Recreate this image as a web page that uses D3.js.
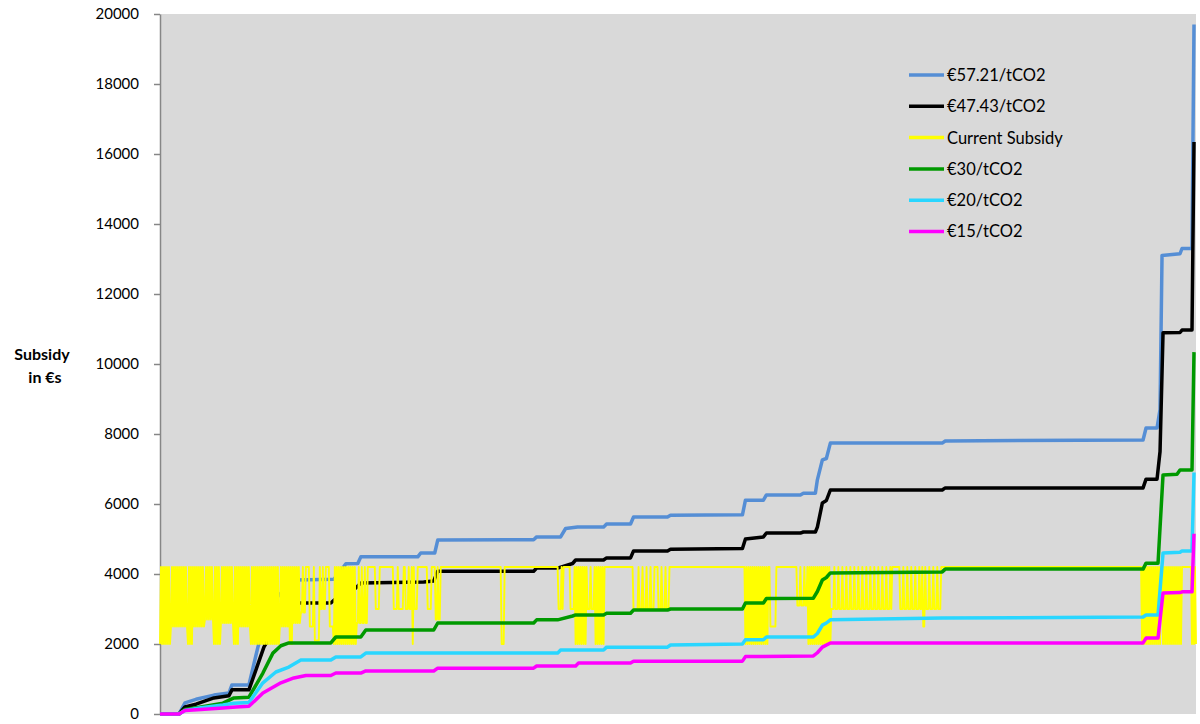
<!DOCTYPE html>
<html>
<head>
<meta charset="utf-8">
<script src="https://cdn.jsdelivr.net/npm/d3@7"></script>
<style>
  body { margin: 0; background: #fff; }
  text { font-family: Lato, "Open Sans", sans-serif; fill: #000; }
</style>
</head>
<body>
<div id="chart"></div>
<script>
const width = 1200, height = 724;

// households ranked along x (no labels on that axis)
const householdCount = 1038;
const yTicks = [0, 2000, 4000, 6000, 8000, 10000, 12000, 14000, 16000, 18000, 20000];

const seriesNames = ['€57.21/tCO2', '€47.43/tCO2', 'Current Subsidy', '€30/tCO2', '€20/tCO2', '€15/tCO2'];
const seriesColors = ['#558ED5', '#000000', '#FFFF00', '#009900', '#29D6FF', '#FF00FF'];

// cumulative curves: [household rank, subsidy €]
const carbon5721 = [[0,0],[19,0],[25,320],[36,420],[54,540],[69,600],[72,830],[89,830],[98,1910],[106,2700],[116,3300],[124,3540],[136,3830],[174,3850],[181,4100],[186,4290],[198,4300],[201,4490],[258,4490],[261,4600],[275,4600],[278,4970],[374,4980],[377,5060],[401,5060],[406,5300],[418,5340],[444,5340],[447,5430],[471,5430],[474,5630],[508,5630],[511,5680],[583,5690],[586,6110],[604,6110],[607,6260],[641,6260],[644,6310],[656,6310],[658,6690],[663,7260],[667,7300],[671,7740],[783,7740],[786,7800],[984,7830],[987,8170],[998,8170],[1001,8700],[1003,13100],[1021,13150],[1023,13300],[1033,13300],[1035,19700]];
const carbon4743 = [[0,0],[19,0],[25,200],[36,280],[54,460],[69,520],[72,690],[89,690],[104,1910],[116,2500],[124,2920],[131,3170],[171,3170],[176,3300],[189,3600],[196,3600],[201,3740],[264,3770],[274,3800],[278,4080],[374,4080],[377,4170],[398,4170],[413,4300],[416,4400],[444,4400],[447,4460],[471,4460],[474,4660],[508,4660],[511,4710],[583,4730],[586,5000],[604,5060],[607,5170],[641,5170],[644,5200],[656,5200],[658,5340],[663,6030],[667,6100],[671,6400],[783,6400],[786,6460],[984,6460],[987,6710],[998,6710],[1001,7500],[1004,10890],[1021,10900],[1023,10970],[1033,10970],[1035,16340]];
const carbon30 = [[0,0],[19,0],[25,130],[41,200],[63,310],[74,460],[89,480],[103,1170],[113,1740],[121,1950],[129,2030],[171,2030],[176,2200],[201,2200],[206,2400],[274,2400],[278,2600],[374,2600],[377,2690],[398,2690],[413,2800],[416,2830],[444,2830],[447,2880],[471,2880],[474,2970],[508,2970],[511,3000],[583,3000],[586,3170],[604,3170],[607,3300],[654,3310],[658,3500],[663,3830],[667,3900],[671,4030],[783,4060],[786,4140],[984,4140],[987,4310],[999,4310],[1004,6830],[1018,6850],[1021,6970],[1033,6970],[1035,10340]];
const carbon20 = [[0,0],[19,0],[25,100],[41,180],[63,260],[74,310],[89,330],[103,890],[116,1200],[129,1340],[141,1540],[171,1540],[176,1630],[201,1630],[206,1740],[398,1740],[401,1830],[444,1830],[447,1910],[508,1910],[511,1970],[583,2000],[586,2120],[604,2120],[607,2200],[654,2200],[658,2300],[663,2540],[667,2600],[671,2690],[783,2740],[984,2770],[987,2830],[999,2830],[1004,4600],[1021,4620],[1023,4660],[1033,4660],[1035,6900]];
const carbon15 = [[0,0],[19,0],[25,100],[41,130],[63,170],[76,200],[89,220],[103,600],[121,890],[134,1030],[146,1100],[171,1100],[176,1170],[201,1170],[206,1230],[274,1230],[278,1310],[374,1310],[377,1370],[416,1370],[419,1460],[471,1460],[474,1510],[583,1510],[586,1640],[654,1660],[658,1750],[663,1910],[671,2030],[984,2030],[987,2170],[999,2170],[1004,3460],[1021,3470],[1023,3490],[1033,3490],[1035,5150]];

// current subsidy: 4200 for most households, lower runs
// [from rank, to rank, lower value, every gap-th household back at 4200 (0 = none)]
const currentHigh = 4200;
const currentLowRuns = [
  [0,11,2000,2],[11,28,2500,2],[28,34,2000,2],[34,45,2500,2],[45,54,2700,2],[54,61,2000,2],
  [61,74,2600,2],[74,80,2000,2],[80,91,2500,2],[91,120,2000,2],[120,130,2500,2],[130,134,2000,2],
  [134,141,2600,2],[141,146,2900,3],[150,153,2500,0],[155,159,2100,0],[161,166,3000,3],[170,174,2500,0],
  [174,196,2000,2],[197,208,2600,3],[216,219,3000,0],[234,237,3000,0],[239,243,3000,0],[246,251,3000,4],
  [253,253,2000,0],[255,257,3000,0],[268,271,3000,0],[276,281,2700,3],[342,344,2000,0],[399,403,3000,4],
  [411,414,3000,0],[416,426,2000,2],[428,434,3000,4],[436,444,2000,2],[474,478,3000,0],[480,494,3000,4],
  [499,509,3000,4],[586,608,2000,2],[611,616,2500,0],[638,647,3100,4],[649,671,2000,2],[672,732,3000,4],
  [741,762,3000,4],[764,765,2500,0],[767,781,3000,4],[983,1001,2000,2],[1004,1023,2000,2],[1033,1037,2000,2]
];

const currentSubsidy = d3.range(householdCount).map(i => [i, currentHigh]);
currentLowRuns.forEach(([from, to, low, gap]) => {
  for (let i = from; i <= to && i < householdCount; i++) {
    const back = gap > 0 && (i - from) % gap === gap - 1;
    currentSubsidy[i][1] = back ? currentHigh : low;
  }
});

const allSeries = [carbon5721, carbon4743, currentSubsidy, carbon30, carbon20, carbon15];

const plot = {left: 160, right: 1196, top: 14, bottom: 714};

const svg = d3.select('#chart').append('svg')
  .attr('width', width).attr('height', height);

const x = d3.scaleLinear().domain([0, householdCount - 1]).range([plot.left, plot.right]);
const y = d3.scaleLinear().domain([0, 20000]).range([plot.bottom, plot.top]);

svg.append('rect')
  .attr('x', plot.left).attr('y', plot.top)
  .attr('width', plot.right - plot.left).attr('height', plot.bottom - plot.top)
  .attr('fill', '#D9D9D9');

const yAxis = svg.append('g')
  .attr('transform', `translate(${plot.left},0)`)
  .call(d3.axisLeft(y).tickValues(yTicks).tickFormat(d3.format('d')).tickSize(6).tickSizeOuter(0).tickPadding(15));
yAxis.select('.domain').attr('stroke', '#868686').attr('stroke-width', 1.5);
yAxis.selectAll('.tick line').attr('stroke', '#868686').attr('stroke-width', 1.5);
yAxis.selectAll('.tick text').style('font-size', '15px').attr('fill', '#000');

const line = d3.line().x(d => x(d[0])).y(d => y(d[1]));

svg.append('g').selectAll('path')
  .data(allSeries)
  .join('path')
  .attr('d', line)
  .attr('fill', 'none')
  .attr('stroke', (d, i) => seriesColors[i])
  .attr('stroke-width', (d, i) => i === 2 ? 1.9 : 3.5)
  .attr('stroke-linejoin', 'round');

// axis title
const title = svg.append('text')
  .attr('text-anchor', 'middle')
  .style('font-size', '16px').style('font-weight', 'bold');
title.append('tspan').attr('x', 42).attr('y', 360).text('Subsidy');
title.append('tspan').attr('x', 45).attr('y', 383).text('in €s');

// legend
const legend = svg.append('g');
const rows = legend.selectAll('g')
  .data(seriesNames)
  .join('g')
  .attr('transform', (d, i) => `translate(909,${75 + i * 31.3})`);
rows.append('line')
  .attr('x1', 0).attr('x2', 35)
  .attr('stroke', (d, i) => seriesColors[i])
  .attr('stroke-width', 3.5);
rows.append('text')
  .attr('x', 38).attr('dy', '0.36em')
  .style('font-size', '16.5px')
  .text(d => d);
</script>
</body>
</html>
